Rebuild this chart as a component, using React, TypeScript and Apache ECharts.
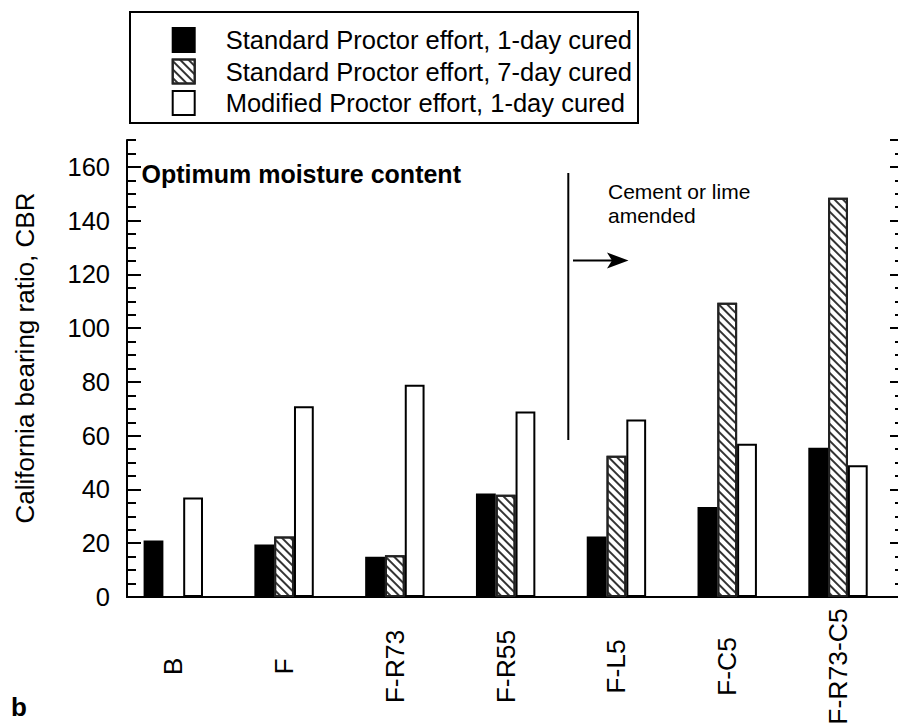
import React, { useEffect, useRef } from "react";
import * as echarts from "echarts";

const categories = ["B", "F", "F-R73", "F-R55", "F-L5", "F-C5", "F-R73-C5"];
const seriesNames = [
  "Standard Proctor effort, 1-day cured",
  "Standard Proctor effort, 7-day cured",
  "Modified Proctor effort, 1-day cured",
];
const standard1Day = [21, 19.5, 15, 38.5, 22.5, 33.5, 55.5];
const standard7Day = [null, 22.5, 15.5, 38, 52.5, 109.5, 148.5];
const modified1Day = [37, 71, 79, 69, 66, 57, 49];
const yMin = 0;
const yMax = 170;
const yMajor = 20;
const yMinor = 5;

const FONT = "'Liberation Sans', Arial, Helvetica, sans-serif";

export default function App() {
  const ref = useRef<HTMLDivElement>(null);
  useEffect(() => {
    if (!ref.current) return;
    const chart = echarts.init(ref.current, null, { renderer: "svg" });
    const frame = { left: 127, right: 0, top: 140, bottom: 127 };
    const barsGrid = { left: 117.9, right: 4.6, top: 140, bottom: 127 };
    const hatch = {
      symbol: "rect",
      symbolSize: 1,
      dashArrayX: [1, 0],
      dashArrayY: [1.3, 3.2],
      rotation: Math.PI / 4,
      color: "#333",
    };
    const option: any = {
      animation: false,
      backgroundColor: "#fff",
      textStyle: { fontFamily: FONT },
      grid: [
        { ...frame, containLabel: false, outerBoundsMode: "none" },
        { ...barsGrid, containLabel: false, outerBoundsMode: "none" },
      ],
      legend: {
        data: seriesNames,
        orient: "vertical",
        left: 171.7,
        top: 27,
        padding: 0,
        itemWidth: 22,
        itemHeight: 24,
        itemGap: 5.5,
        icon: "rect",
        selectedMode: false,
        textStyle: {
          fontSize: 25.5,
          lineHeight: 24,
          color: "#000",
          fontFamily: FONT,
          padding: [0, 0, 0, 26],
        },
      },
      xAxis: [
        {
          gridIndex: 0,
          type: "value",
          position: "bottom",
          min: 0,
          max: 1,
          axisLine: { show: true, lineStyle: { color: "#000", width: 2 } },
          axisTick: { show: false },
          axisLabel: { show: false },
          splitLine: { show: false },
        },
        {
          gridIndex: 0,
          type: "value",
          position: "top",
          min: 0,
          max: 1,
          axisLine: { show: true, lineStyle: { color: "#000", width: 2 } },
          axisTick: { show: false },
          axisLabel: { show: false },
          splitLine: { show: false },
        },
        {
          gridIndex: 1,
          type: "category",
          data: categories,
          boundaryGap: true,
          axisLine: { show: false },
          axisTick: { show: false },
          splitLine: { show: false },
          axisLabel: {
            rotate: 90,
            interval: 0,
            margin: 69.5,
            align: "center",
            verticalAlign: "middle",
            fontSize: 26.5,
            color: "#000",
            fontFamily: FONT,
          },
        },
      ],
      yAxis: [
        {
          gridIndex: 0,
          type: "value",
          position: "left",
          min: yMin,
          max: yMax,
          interval: yMajor,
          axisLine: { show: true, lineStyle: { color: "#000", width: 2 } },
          axisTick: { show: true, inside: true, length: 14, lineStyle: { color: "#000", width: 2 } },
          axisLabel: {
            show: true,
            margin: 17,
            fontSize: 25.5,
            color: "#000",
            fontFamily: FONT,
            showMaxLabel: false,
            padding: [10, 0, 0, 0],
          },
          splitLine: { show: false },
        },
        {
          gridIndex: 0,
          type: "value",
          position: "left",
          min: yMin,
          max: yMax,
          interval: yMinor,
          axisLine: { show: false },
          axisTick: { show: true, inside: true, length: 9, lineStyle: { color: "#000", width: 2 } },
          axisLabel: { show: false },
          splitLine: { show: false },
        },
        {
          gridIndex: 0,
          type: "value",
          position: "right",
          min: yMin,
          max: yMax,
          interval: yMajor,
          axisLine: { show: false },
          axisTick: { show: true, inside: true, length: 8, lineStyle: { color: "#000", width: 2 } },
          axisLabel: { show: false },
          splitLine: { show: false },
        },
        {
          gridIndex: 0,
          type: "value",
          position: "right",
          min: yMin,
          max: yMax,
          interval: yMinor,
          axisLine: { show: false },
          axisTick: { show: true, inside: true, length: 3, lineStyle: { color: "#000", width: 2 } },
          axisLabel: { show: false },
          splitLine: { show: false },
        },
        {
          gridIndex: 1,
          type: "value",
          min: yMin,
          max: yMax,
          show: false,
        },
      ],
      series: [
        {
          name: seriesNames[0],
          type: "bar",
          xAxisIndex: 2,
          yAxisIndex: 4,
          data: standard1Day,
          barWidth: 19.8,
          barGap: "0%",
          itemStyle: { color: "#000", borderColor: "#000", borderWidth: 2 },
        },
        {
          name: seriesNames[1],
          type: "bar",
          xAxisIndex: 2,
          yAxisIndex: 4,
          data: standard7Day,
          barWidth: 19.8,
          barGap: "0%",
          itemStyle: { color: "#fff", borderColor: "#222", borderWidth: 2, decal: hatch },
        },
        {
          name: seriesNames[2],
          type: "bar",
          xAxisIndex: 2,
          yAxisIndex: 4,
          data: modified1Day,
          barWidth: 19.8,
          barGap: "0%",
          itemStyle: { color: "#fff", borderColor: "#000", borderWidth: 2 },
        },
      ],
      graphic: [
        {
          type: "rect",
          shape: { x: 130, y: 12, width: 508, height: 111 },
          style: { fill: "none", stroke: "#000", lineWidth: 2 },
          z: 10,
        },
        {
          type: "text",
          x: 25,
          y: 358,
          rotation: Math.PI / 2,
          style: {
            text: "California bearing ratio, CBR",
            font: `26px ${FONT}`,
            fill: "#000",
            textAlign: "center",
            textVerticalAlign: "middle",
          },
        },
        {
          type: "text",
          x: 141.5,
          y: 174,
          style: {
            text: "Optimum moisture content",
            font: `bold 25px ${FONT}`,
            fill: "#000",
            textAlign: "left",
            textVerticalAlign: "middle",
          },
        },
        {
          type: "line",
          shape: { x1: 568.3, y1: 173, x2: 568.3, y2: 440 },
          style: { stroke: "#000", lineWidth: 2 },
        },
        {
          type: "line",
          shape: { x1: 573, y1: 260.5, x2: 612, y2: 260.5 },
          style: { stroke: "#000", lineWidth: 2 },
        },
        {
          type: "polygon",
          shape: { points: [[628.5, 260.5], [607, 252.5], [612, 260.5], [607, 268.5]] },
          style: { fill: "#000" },
        },
        {
          type: "text",
          x: 608,
          y: 179,
          style: {
            text: "Cement or lime\namended",
            font: `21px ${FONT}`,
            lineHeight: 24,
            fill: "#000",
            textAlign: "left",
            textVerticalAlign: "top",
          },
        },
        {
          type: "text",
          x: 11,
          y: 707,
          style: {
            text: "b",
            font: `bold 26px ${FONT}`,
            fill: "#000",
            textAlign: "left",
            textVerticalAlign: "middle",
          },
        },
      ],
    };
    chart.setOption(option);
    return () => chart.dispose();
  }, []);
  return (
    <div
      ref={ref}
      style={{ position: "fixed", left: 0, top: 0, width: 898, height: 724, background: "#fff" }}
    />
  );
}
